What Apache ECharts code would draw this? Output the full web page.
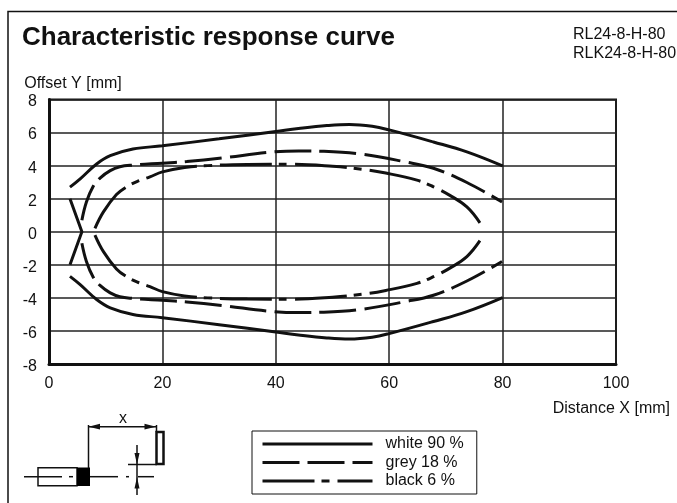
<!DOCTYPE html>
<html><head><meta charset="utf-8">
<style>html,body{margin:0;padding:0;background:#fff}#c{width:677px;height:503px}</style>
<script src="https://cdn.jsdelivr.net/npm/echarts@6/dist/echarts.min.js"></script>
</head><body><div id="c"></div>
<script>
const xTicks = [0,20,40,60,80,100];
const yTicks = [-8,-6,-4,-2,0,2,4,6,8];
const legendNames = ['white 90 %','grey 18 %','black 6 %'];
const whiteUpper = [[3.7,2.7],[5.5,3.2],[8.4,4.1],[10.8,4.6],[14.8,5.0],[20,5.2],[30,5.62],[40,6.06],[44,6.24],[49,6.42],[53,6.49],[57,6.38],[60,6.16],[67.8,5.43],[73.7,4.83],[80,3.98]];
const whiteLower = [[3.7,-2.7],[5.5,-3.2],[8.4,-4.1],[10.8,-4.6],[14.8,-5.0],[20,-5.2],[30,-5.62],[40,-6.06],[44,-6.24],[49,-6.42],[53,-6.49],[57,-6.38],[60,-6.16],[67.8,-5.43],[73.7,-4.83],[80,-3.98]];
const whiteTip = [[3.7,2.0],[5.8,0],[3.7,-2.0]];
const greyUpper = [[5.8,0.7],[6.6,1.8],[7.8,2.75],[9,3.25],[10.8,3.7],[12.5,3.93],[14.8,4.03],[20,4.15],[24.3,4.25],[30.7,4.47],[38.7,4.8],[44,4.89],[48,4.87],[54.7,4.71],[62.8,4.23],[67.8,3.84],[73.7,2.98],[79.9,1.8]];
const greyLower = [[5.8,-0.7],[6.6,-1.8],[7.8,-2.75],[9,-3.25],[10.8,-3.7],[12.5,-3.93],[14.8,-4.03],[20,-4.15],[24.3,-4.25],[30.7,-4.47],[38.7,-4.8],[44,-4.89],[48,-4.87],[54.7,-4.71],[62.8,-4.23],[67.8,-3.84],[73.7,-2.98],[79.9,-1.8]];
const blackUpper = [[8.1,0.2],[9.6,1.2],[11.9,2.25],[13.7,2.72],[15.6,3.05],[17.8,3.32],[20,3.62],[23.9,3.88],[28,4.0],[35,4.07],[43,4.08],[50,3.96],[55.3,3.78],[59.4,3.55],[64.9,3.12],[67.8,2.72],[70.7,2.2],[73.7,1.5],[76,0.54]];
const blackLower = [[8.1,-0.2],[9.6,-1.2],[11.9,-2.25],[13.7,-2.72],[15.6,-3.05],[17.8,-3.32],[20,-3.62],[23.9,-3.88],[28,-4.0],[35,-4.07],[43,-4.08],[50,-3.96],[55.3,-3.78],[59.4,-3.55],[64.9,-3.12],[67.8,-2.72],[70.7,-2.2],[73.7,-1.5],[76,-0.54]];

const FONT='"Liberation Sans",Arial,sans-serif', INK='#111';
const greyDash=[37,8], blackDash=[52,7,8,8];
function line(name,data,type){
  return {name,type:'line',data,symbol:'none',smooth:0.4,silent:true,
    lineStyle:{color:INK,width:3,type,cap:'butt'},z:5};
}
const seg=(x1,y1,x2,y2,w)=>({type:'line',shape:{x1,y1,x2,y2},style:{stroke:INK,lineWidth:w||1.5},z:20});
const rect=(x,y,width,height,w,fill)=>({type:'rect',shape:{x,y,width,height},style:{stroke:INK,lineWidth:w,fill:fill||'#fff'},z:19});
const tri=(pts)=>({type:'polygon',shape:{points:pts},style:{fill:INK},z:21});
const txt=(x,y,text,size,extra)=>Object.assign({type:'text',x,y,style:{text,fill:INK,font:(size||16)+'px '+FONT,verticalAlign:'middle',align:'center'},z:20},extra||{});

const chart=echarts.init(document.getElementById('c'),null,{renderer:'canvas'});
chart.setOption({
  animation:false,backgroundColor:'#fff',
  title:[
    {text:'Characteristic response curve',left:22,top:25,padding:0,textStyle:{fontFamily:FONT,fontWeight:'bold',fontSize:26,color:INK}},
    {text:'RL24-8-H-80',left:573,top:27,padding:0,textStyle:{fontFamily:FONT,fontWeight:'normal',fontSize:16,color:INK}},
    {text:'RLK24-8-H-80',left:573,top:46,padding:0,textStyle:{fontFamily:FONT,fontWeight:'normal',fontSize:16,color:INK}}
  ],
  grid:{left:49,right:61,top:99.5,bottom:139,show:true,borderColor:INK,borderWidth:2,backgroundColor:'transparent'},
  xAxis:{type:'value',min:0,max:100,interval:20,name:'Distance X [mm]',nameLocation:'end',nameGap:54,
    nameTextStyle:{fontFamily:FONT,fontSize:16,color:INK,align:'right',verticalAlign:'top',padding:[37,0,0,0]},
    axisLine:{show:true,onZero:false,lineStyle:{color:INK,width:3}},axisTick:{show:false},
    axisLabel:{margin:12,fontFamily:FONT,fontSize:16,color:INK,formatter:v=>xTicks.includes(v)?String(v):''},
    splitLine:{show:true,lineStyle:{color:'#222',width:1.5}}},
  yAxis:{type:'value',min:-8,max:8,interval:2,name:'Offset Y [mm]',nameLocation:'end',nameGap:8,
    nameTextStyle:{fontFamily:FONT,fontSize:16,color:INK,align:'center',padding:[0,0,0,48]},
    axisLine:{show:true,onZero:false,lineStyle:{color:INK,width:3}},axisTick:{show:false},
    axisLabel:{margin:12,fontFamily:FONT,fontSize:16,color:INK,
      formatter:v=>yTicks.includes(v)?'{t|'+v+'}':'',
      rich:{t:{fontFamily:FONT,fontSize:16,color:INK,padding:[5,0,0,0]}}},
    splitLine:{show:true,lineStyle:{color:'#222',width:1.5}}},
  legend:{data:legendNames,orient:'vertical',left:252,top:431,padding:[5,13,5,9],itemGap:2.5,itemWidth:110,itemHeight:14,
    borderColor:INK,borderWidth:1,backgroundColor:'#fff',selectedMode:false,
    itemStyle:{color:'transparent',borderWidth:0,opacity:0},
    lineStyle:{width:3,color:INK,cap:'butt'},
    textStyle:{fontFamily:FONT,fontSize:16,color:INK,padding:[0,0,0,8],width:93}},
  series:[
    line(legendNames[0],whiteUpper,'solid'),
    line(legendNames[0],whiteLower,'solid'),
    Object.assign(line(legendNames[0],whiteTip,'solid'),{smooth:false}),
    line(legendNames[1],greyUpper,greyDash),
    line(legendNames[1],greyLower,greyDash),
    line(legendNames[2],blackUpper,blackDash),
    line(legendNames[2],blackLower,blackDash)
  ],
  graphic:[
    {type:'polyline',shape:{points:[[8,503],[8,11.5],[677,11.5]]},style:{stroke:INK,lineWidth:1.5,fill:null},z:1},
    seg(24,476.7,62,476.7),seg(69,476.7,73,476.7),seg(90,476.7,118,476.7),seg(126,476.7,129,476.7),seg(138,476.7,154,476.7),
    rect(38,467.7,39,18,1.5),
    {type:'rect',shape:{x:77,y:467.5,width:13,height:18.5},style:{fill:'#000'},z:20},
    seg(88.5,425,88.5,468),
    seg(88,426.7,156,426.7),
    tri([[88.5,426.7],[100,423.8],[100,429.6]]),
    tri([[156,426.7],[144.5,423.8],[144.5,429.6]]),
    seg(156.5,425,156.5,432),
    rect(156.5,432,7,32,2.5),
    seg(128,464.5,157,464.5),
    seg(137,445,137,495),
    tri([[137,464.5],[134.5,453],[139.5,453]]),
    tri([[137,477],[134.5,488.5],[139.5,488.5]]),
    txt(123,418.5,'x',16),
    txt(125,468,'y',16,{rotation:Math.PI/2,originX:125,originY:468})
  ]
});
</script></body></html>
